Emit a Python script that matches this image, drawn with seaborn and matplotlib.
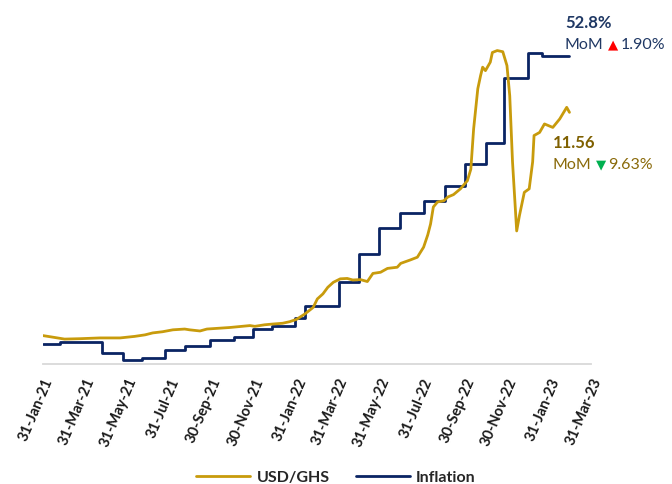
import matplotlib
matplotlib.use("Agg")
import matplotlib.pyplot as plt
import seaborn as sns
import pandas as pd

# ---------------- data ----------------
tick_labels = ["31-Jan-21", "31-Mar-21", "31-May-21", "31-Jul-21", "30-Sep-21",
               "30-Nov-21", "31-Jan-22", "31-Mar-22", "31-May-22", "31-Jul-22",
               "30-Sep-22", "30-Nov-22", "31-Jan-23", "31-Mar-23"]

infl_dates = ["2021-01-31", "2021-02-24", "2021-04-26", "2021-05-26", "2021-06-22",
              "2021-07-25", "2021-08-24", "2021-09-28", "2021-11-02", "2021-11-29",
              "2021-12-27", "2022-01-29", "2022-02-12", "2022-04-02", "2022-05-01",
              "2022-05-30", "2022-06-29", "2022-08-03", "2022-09-02", "2022-10-01",
              "2022-10-31", "2022-11-26", "2022-12-31", "2023-01-20", "2023-02-28"]
infl_values = [9.9, 10.3, 8.5, 7.5, 7.8, 9.0, 9.7, 10.6, 11.0, 12.2, 12.6, 13.9, 15.7,
               19.4, 23.6, 27.6, 29.8, 31.7, 33.9, 37.2, 40.4, 50.3, 54.1, 53.6, 53.6]

usd_dates = ["2021-01-31", "2021-02-14", "2021-03-03", "2021-03-25", "2021-04-23",
             "2021-05-22", "2021-06-12", "2021-06-27", "2021-07-08", "2021-07-22",
             "2021-08-06", "2021-08-23", "2021-08-30", "2021-09-14", "2021-09-24",
             "2021-10-27", "2021-11-25", "2021-12-02", "2021-12-16", "2021-12-28",
             "2022-01-11", "2022-01-21", "2022-01-31", "2022-02-12", "2022-02-24",
             "2022-03-02", "2022-03-10", "2022-03-17", "2022-03-25", "2022-04-04",
             "2022-04-14", "2022-04-22", "2022-05-03", "2022-05-13", "2022-05-21",
             "2022-06-01", "2022-06-11", "2022-06-25", "2022-06-30", "2022-07-14",
             "2022-07-24", "2022-08-02", "2022-08-08", "2022-08-12", "2022-08-16",
             "2022-08-22", "2022-08-31", "2022-09-06", "2022-09-14", "2022-09-24",
             "2022-10-04", "2022-10-09", "2022-10-13", "2022-10-19", "2022-10-23",
             "2022-10-26", "2022-10-30", "2022-11-06", "2022-11-09", "2022-11-16",
             "2022-11-24", "2022-11-30", "2022-12-04", "2022-12-08", "2022-12-14",
             "2022-12-18", "2022-12-25", "2023-01-01", "2023-01-06", "2023-01-08",
             "2023-01-16", "2023-01-23", "2023-02-04", "2023-02-14", "2023-02-21",
             "2023-02-24", "2023-02-28"]
usd_values = [5.77, 5.73, 5.68, 5.69, 5.71,
              5.71, 5.75, 5.79, 5.84, 5.87,
              5.92, 5.94, 5.92, 5.89, 5.94,
              5.98, 6.03, 6.01, 6.05, 6.07,
              6.09, 6.13, 6.19, 6.33, 6.50,
              6.72, 6.85, 7.02, 7.15, 7.24,
              7.25, 7.21, 7.22, 7.17, 7.38,
              7.41, 7.51, 7.54, 7.64, 7.73,
              7.80, 8.06, 8.38, 8.66, 9.10,
              9.23, 9.26, 9.36, 9.42, 9.57,
              9.78, 10.08, 11.12, 12.16, 12.50,
              12.72, 12.63, 12.85, 13.10, 13.15,
              13.12, 12.76, 11.98, 10.27, 8.48,
              8.88, 9.48, 9.57, 10.27, 10.95,
              11.03, 11.25, 11.16, 11.38, 11.59,
              11.68, 11.55]

series_names = ["USD/GHS", "Inflation"]

# ---------------- style ----------------
sns.set_style("white")
plt.rcParams["font.family"] = ["Lato", "DejaVu Sans"]

GOLD = "#C89B0C"
NAVY = "#0A2463"
W, H = 672, 485

def fx(px):
    return px / W

def fy(py):
    return 1 - py / H

fig = plt.figure(figsize=(W / 100, H / 100), dpi=100)
ax = fig.add_axes([fx(43), fy(365), fx(591) - fx(43), fy(20) - fy(365)])
ax2 = ax.twinx()

infl_dt = pd.to_datetime(infl_dates)
usd_dt = pd.to_datetime(usd_dates)
tick_dt = pd.to_datetime(tick_labels, format="%d-%b-%y")

sns.lineplot(x=infl_dt, y=infl_values, ax=ax, color=NAVY, linewidth=2.0,
             drawstyle="steps-post")
sns.lineplot(x=usd_dt, y=usd_values, ax=ax2, color=GOLD, linewidth=2.0)

ax.set_xlim(tick_dt[0], tick_dt[-1])
ax.set_ylim(6.893, 59.245)
ax2.set_ylim(5.035, 13.967)

for a in (ax, ax2):
    a.set_xlabel("")
    a.set_ylabel("")
    a.set_yticks([])
    for s in ("left", "right", "top"):
        a.spines[s].set_visible(False)
ax2.spines["bottom"].set_visible(False)
ax.spines["bottom"].set_color("#D9D9D9")
ax.spines["bottom"].set_linewidth(1.3)

ax.set_xticks(tick_dt)
ax.set_xticklabels(tick_labels, rotation=67, ha="right", rotation_mode="anchor",
                   fontsize=10.5, fontweight="bold", color="#1a1a1a")
ax.tick_params(axis="x", length=5, width=1.2, color="#D9D9D9", pad=3)

# legend
lines = [ax2.get_lines()[0], ax.get_lines()[0]]
fig.legend(lines, series_names, loc="center", bbox_to_anchor=(0.5, fy(478)),
           ncol=2, frameon=False, handlelength=3.4, columnspacing=1.6,
           handletextpad=0.4, prop={"weight": "bold", "size": 11.5})


# annotations
def mom_label(x_px, y_px, head, head_color, arrow, arrow_color, pct, text_color):
    t0 = fig.text(fx(x_px), fy(y_px - 22), head, fontsize=12, fontweight="bold",
                  color=head_color, ha="left", va="center")
    t1 = fig.text(fx(x_px), fy(y_px), "MoM", fontsize=11.5, color=text_color,
                  ha="left", va="center")
    t2 = ax2.annotate(arrow, xy=(1, 0.5), xycoords=t1, xytext=(3, 0),
                      textcoords="offset points", fontsize=9.5, color=arrow_color,
                      ha="left", va="center", family="DejaVu Sans",
                      annotation_clip=False)
    ax2.annotate(pct, xy=(1, 0.5), xycoords=t2, xytext=(1.5, 0),
                 textcoords="offset points", fontsize=11.5, color=text_color,
                 ha="left", va="center", annotation_clip=False)
    return t0


mom_label(565, 45, "52.8%", "#1F3864", "\u25B2", "#FF0000", "1.90%", "#203864")
mom_label(553, 165, "11.56", "#7F6000", "\u25BC", "#00B050", "9.63%", "#8A6A0A")

fig.savefig("out.png", dpi=100)
